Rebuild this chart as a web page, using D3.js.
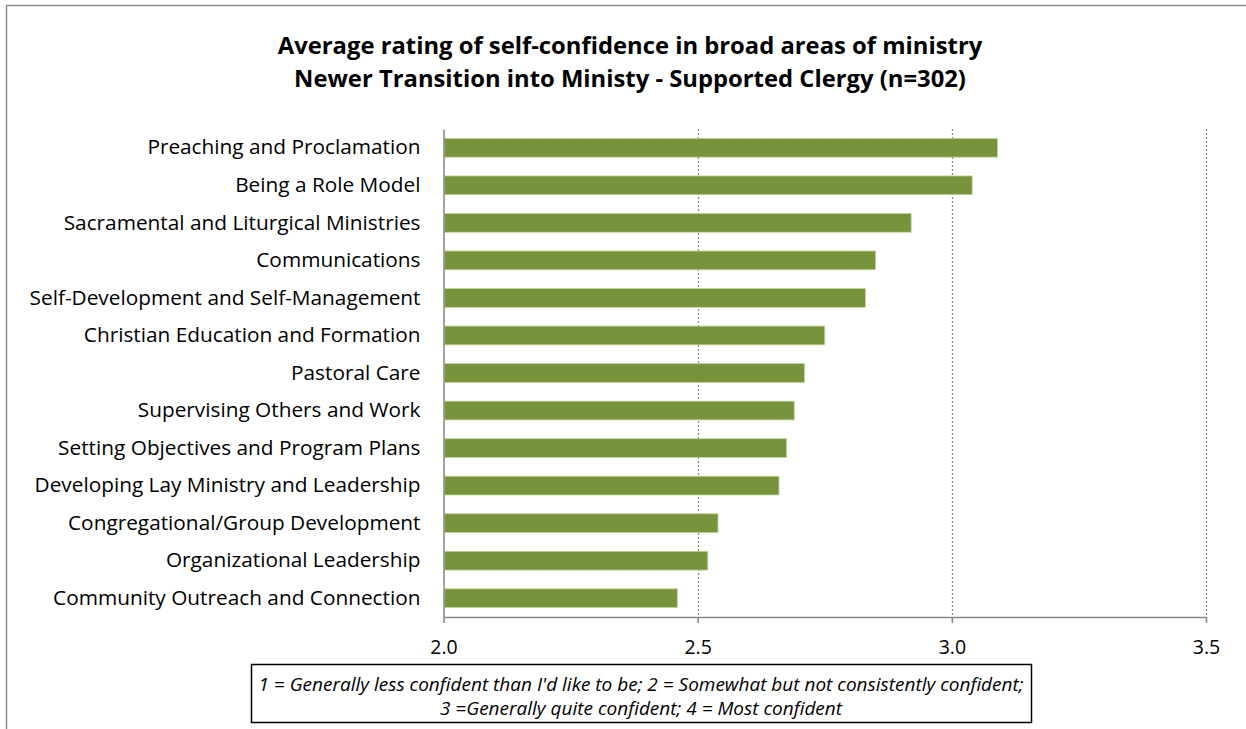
<!DOCTYPE html>
<html>
<head>
<meta charset="utf-8">
<script src="https://cdn.jsdelivr.net/npm/d3@7"></script>
<style>
  html, body { margin: 0; padding: 0; background: #fff; }
  svg { display: block; }
  text { font-family: "Open Sans", sans-serif; fill: #000; }
</style>
</head>
<body>
<svg id="chart" width="1246" height="729"></svg>
<script>
const categories = [
  "Preaching and Proclamation",
  "Being a Role Model",
  "Sacramental and Liturgical Ministries",
  "Communications",
  "Self-Development and Self-Management",
  "Christian Education and Formation",
  "Pastoral Care",
  "Supervising Others and Work",
  "Setting Objectives and Program Plans",
  "Developing Lay Ministry and Leadership",
  "Congregational/Group Development",
  "Organizational Leadership",
  "Community Outreach and Connection"
];
const ratings = [3.09, 3.04, 2.92, 2.85, 2.83, 2.75, 2.71, 2.69, 2.675, 2.66, 2.54, 2.52, 2.46];
const xTicks = [2.0, 2.5, 3.0, 3.5];
const titleLines = [
  "Average rating of self-confidence in broad areas of ministry",
  "Newer Transition into Ministy - Supported Clergy (n=302)"
];
const noteLines = [
  "1 = Generally less confident than I'd like to be; 2 = Somewhat but not consistently confident;",
  "3 =Generally quite confident; 4 = Most confident"
];

const svg = d3.select("#chart");

// outer chart frame
svg.append("rect")
  .attr("x", 6.5).attr("y", 5.5)
  .attr("width", 1260).attr("height", 740)
  .attr("fill", "none").attr("stroke", "#8c8c8c").attr("stroke-width", 1.5);

const plot = { left: 443.5, right: 1206, top: 129, bottom: 617 };

const x = d3.scaleLinear().domain([2.0, 3.5]).range([plot.left, plot.right]);
const y = d3.scaleBand().domain(categories).range([plot.top, plot.bottom]).paddingInner(0.5).paddingOuter(0.25);

// title
svg.append("g").selectAll("text").data(titleLines).join("text")
  .attr("x", 630).attr("y", (d, i) => 54 + i * 33)
  .attr("text-anchor", "middle")
  .attr("font-size", 23.8).attr("font-weight", "bold")
  .text(d => d);

// vertical dotted gridlines
svg.append("g").selectAll("line").data(xTicks.filter(t => t > 2.0)).join("line")
  .attr("x1", d => Math.round(x(d)) + 0.5).attr("x2", d => Math.round(x(d)) + 0.5)
  .attr("y1", plot.top).attr("y2", plot.bottom)
  .attr("stroke", "#8a8a8a").attr("stroke-width", 1.3)
  .attr("stroke-dasharray", "2,2");

// bars
svg.append("g").selectAll("rect").data(categories).join("rect")
  .attr("x", x(2.0) + 1)
  .attr("y", d => y(d))
  .attr("width", (d, i) => x(ratings[i]) - x(2.0) - 1)
  .attr("height", y.bandwidth())
  .attr("fill", "#77933c")
  .attr("stroke", "#c3d69b").attr("stroke-width", 0.8);

// x axis
const xAxis = svg.append("g")
  .attr("transform", `translate(0,${plot.bottom})`)
  .call(d3.axisBottom(x).tickValues(xTicks).tickFormat(d3.format(".1f")).tickSize(6).tickSizeOuter(0));
xAxis.select(".domain").attr("stroke", "#868686").attr("stroke-width", 1.5);
xAxis.selectAll(".tick line").attr("stroke", "#868686").attr("stroke-width", 1.5);
xAxis.selectAll(".tick text")
  .attr("font-family", "'Open Sans', sans-serif")
  .attr("font-size", 19.5).attr("fill", "#000").attr("dy", "1.45em");

// y axis
const yAxis = svg.append("g")
  .attr("transform", `translate(${plot.left},0)`)
  .call(d3.axisLeft(y).tickSize(0).tickPadding(23));
yAxis.select(".domain").attr("stroke", "#868686").attr("stroke-width", 1.5);
yAxis.selectAll(".tick text")
  .attr("font-family", "'Open Sans', sans-serif")
  .attr("font-size", 20.8).attr("fill", "#000");

// explanatory note box
svg.append("rect")
  .attr("x", 251.5).attr("y", 664.5).attr("width", 780).attr("height", 58)
  .attr("fill", "#fff").attr("stroke", "#000").attr("stroke-width", 1.5);
svg.append("g").selectAll("text").data(noteLines).join("text")
  .attr("x", 641).attr("y", (d, i) => 691 + i * 24)
  .attr("text-anchor", "middle")
  .attr("font-size", 19).attr("font-style", "italic")
  .text(d => d);
</script>
</body>
</html>
